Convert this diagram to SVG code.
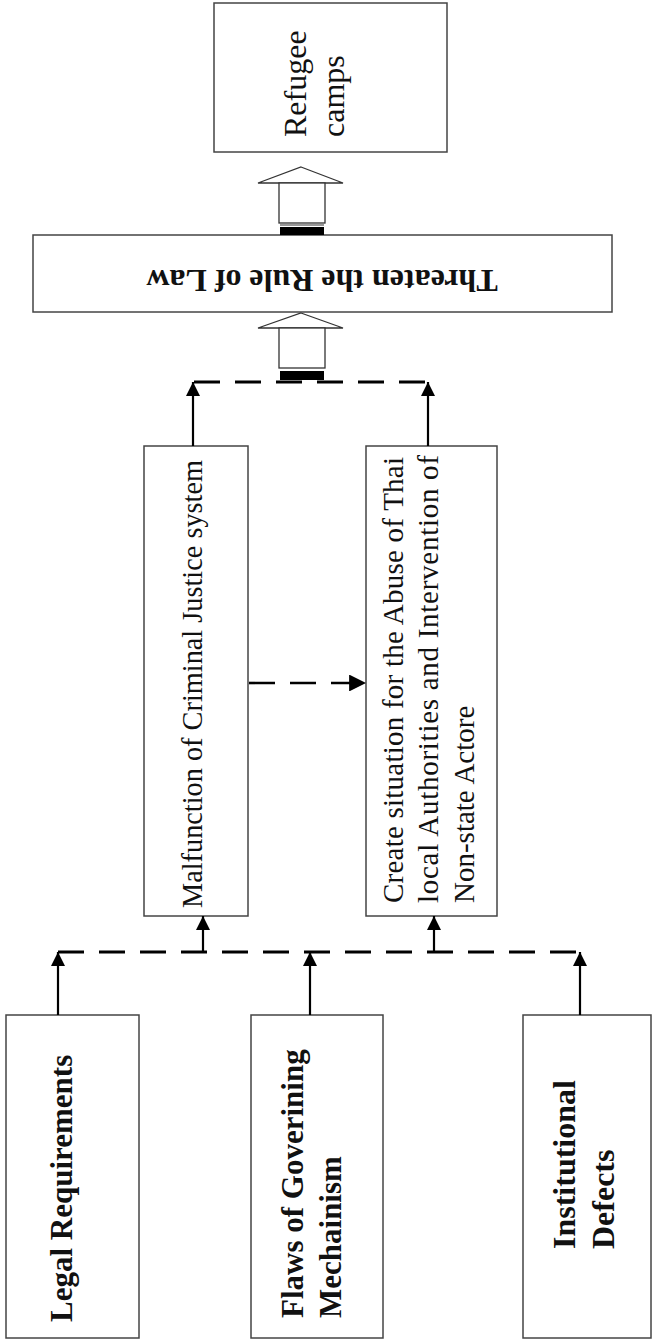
<svg xmlns="http://www.w3.org/2000/svg" width="652" height="1340" viewBox="0 0 652 1340">
<style>
.box{fill:#fff;stroke:#444;stroke-width:1.5}
.t{font-family:"Liberation Serif","Times New Roman",serif;fill:#111}
.b{font-weight:bold}
.ln{stroke:#000;stroke-width:2.2;fill:none}
.dash{stroke:#000;stroke-width:2.8;fill:none;stroke-dasharray:26 15}
.blk{fill:#fff;stroke:#333;stroke-width:1.3}
</style>
<defs>
<marker id="ah" viewBox="0 0 10 10" refX="10" refY="5" markerWidth="6.5" markerHeight="6.5" markerUnits="strokeWidth" orient="auto">
<path d="M0,0 L10,5 L0,10 Z" fill="#000"/>
</marker>
</defs>

<g id="refugee">
<rect class="box" x="214" y="3" width="233" height="149"/>
<text class="t" font-size="32" transform="translate(306,137) rotate(-90)">Refugee</text>
<text class="t" font-size="32" transform="translate(344,137) rotate(-90)">camps</text>
</g>

<g id="threaten">
<rect class="box" x="33" y="235" width="579" height="77"/>
<text class="t b" font-size="32" text-anchor="middle" transform="translate(322,270) rotate(180)">Threaten the Rule of Law</text>
</g>

<g id="malfunction">
<rect class="box" x="144" y="446" width="104" height="470"/>
<text class="t" font-size="29" textLength="448" lengthAdjust="spacingAndGlyphs" transform="translate(202,908) rotate(-90)">Malfunction of Criminal Justice system</text>
</g>

<g id="create">
<rect class="box" x="366" y="446" width="131" height="470"/>
<text class="t" font-size="29" textLength="446" lengthAdjust="spacing" transform="translate(403,903) rotate(-90)">Create situation for the Abuse of Thai</text>
<text class="t" font-size="29" textLength="448" lengthAdjust="spacing" transform="translate(438,903) rotate(-90)">local Authorities  and Intervention of</text>
<text class="t" font-size="29" transform="translate(474,903) rotate(-90)">Non-state  Actore</text>
</g>

<g id="legal">
<rect class="box" x="6" y="1015" width="133" height="323"/>
<text class="t b" font-size="31" transform="translate(72,1322) rotate(-90)">Legal Requirements</text>
</g>

<g id="flaws">
<rect class="box" x="251" y="1015" width="132" height="323"/>
<text class="t b" font-size="31" transform="translate(303,1318) rotate(-90)">Flaws of Goverining</text>
<text class="t b" font-size="31" transform="translate(341,1318) rotate(-90)">Mechainism</text>
</g>

<g id="institutional">
<rect class="box" x="523" y="1015" width="128" height="323"/>
<text class="t b" font-size="32" transform="translate(575,1249) rotate(-90)">Institutional</text>
<text class="t b" font-size="32" transform="translate(614,1249) rotate(-90)">Defects</text>
</g>

<g id="connectors">
<g id="blockarrow1">
<polygon class="blk" points="301,167 343,183 258,183"/>
<rect class="blk" x="279" y="183" width="46" height="40"/>
<line x1="280" y1="225" x2="324" y2="225" stroke="#333" stroke-width="1.2"/>
<rect x="280" y="227" width="44" height="8" fill="#000"/>
</g>
<g id="blockarrow2">
<polygon class="blk" points="301,313 343,328 258,328"/>
<rect class="blk" x="279" y="328" width="46" height="40"/>
<rect x="280" y="371" width="44" height="9" fill="#000"/>
</g>
<line class="dash" x1="194" y1="382" x2="428" y2="382"/>
<line class="ln" x1="193" y1="446" x2="193" y2="382" marker-end="url(#ah)"/>
<line class="ln" x1="428" y1="446" x2="428" y2="382" marker-end="url(#ah)"/>
<line class="dash" x1="249" y1="683" x2="366" y2="683" stroke-dasharray="20 18 26 14 26 14" marker-end="url(#ah)" style="stroke-width:2.6"/>
<line class="dash" x1="58" y1="952" x2="580" y2="952"/>
<line class="ln" x1="58" y1="1015" x2="58" y2="952" marker-end="url(#ah)"/>
<line class="ln" x1="310" y1="1015" x2="310" y2="952" marker-end="url(#ah)"/>
<line class="ln" x1="580" y1="1015" x2="580" y2="952" marker-end="url(#ah)"/>
<line class="ln" x1="203" y1="952" x2="203" y2="916" marker-end="url(#ah)"/>
<line class="ln" x1="434" y1="952" x2="434" y2="916" marker-end="url(#ah)"/>
</g>
</svg>
